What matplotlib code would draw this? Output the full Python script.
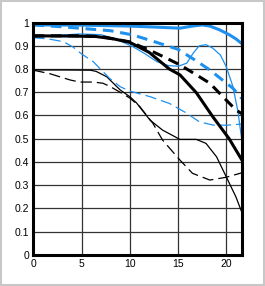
import matplotlib.pyplot as plt
from matplotlib.patches import Rectangle

plt.rcParams['font.family'] = ['Liberation Sans', 'DejaVu Sans']

BLUE = '#1e90ee'

# thick blue solid
x_bs = [0, 5, 10, 13, 15.2, 16.5, 17.5, 18.3, 19.3, 20.3, 21.0, 21.6]
y_bs = [0.99, 0.989, 0.985, 0.98, 0.976, 0.985, 0.99, 0.985, 0.969, 0.948, 0.93, 0.91]
# thick blue dashed
x_bd = [0, 3, 5, 8, 10.3, 12, 13.5, 15, 16.9, 18.3, 19.6, 20.7, 21.6]
y_bd = [0.99, 0.982, 0.975, 0.965, 0.947, 0.925, 0.905, 0.885, 0.835, 0.796, 0.753, 0.717, 0.674]
# thin blue solid
x_ts = [0, 2.5, 4.8, 7, 8.5, 10.3, 11.6, 12.8, 14, 15, 15.9, 16.6, 17.2, 17.9, 18.6, 19.4, 20.0, 20.7, 21.2, 21.6]
y_ts = [0.935, 0.945, 0.951, 0.948, 0.93, 0.897, 0.865, 0.832, 0.815, 0.812, 0.825, 0.87, 0.9, 0.905, 0.89, 0.86, 0.81, 0.724, 0.62, 0.50]
# thin blue dashed
x_td = [0, 1.5, 3.1, 4.1, 5.0, 6.2, 7.9, 9.0, 10, 12.1, 14.1, 15.9, 17.2, 18.6, 20, 21.6]
y_td = [0.935, 0.93, 0.918, 0.895, 0.865, 0.832, 0.76, 0.724, 0.705, 0.681, 0.652, 0.61, 0.573, 0.559, 0.558, 0.563]
# thick black solid
x_ks = [0, 4, 6.5, 8.3, 10, 12, 14.1, 15.2, 16.9, 18.6, 20.3, 21.6]
y_ks = [0.943, 0.942, 0.94, 0.93, 0.915, 0.872, 0.80, 0.775, 0.698, 0.595, 0.50, 0.41]
# thick black dashed
x_kd = [0, 5, 7, 10, 12, 13.5, 15.2, 16.9, 18.3, 19.3, 21, 21.6]
y_kd = [0.943, 0.943, 0.94, 0.917, 0.882, 0.853, 0.818, 0.775, 0.739, 0.696, 0.624, 0.608]
# thin black solid
x_ns = [0, 3, 5.9, 6.5, 7.6, 9.0, 10.0, 10.7, 12.1, 13.4, 15.2, 16.9, 17.9, 19.0, 20.0, 21.0, 21.6]
y_ns = [0.796, 0.796, 0.795, 0.79, 0.767, 0.71, 0.681, 0.654, 0.58, 0.537, 0.497, 0.497, 0.48, 0.422, 0.336, 0.25, 0.185]
# thin black dashed
x_nd = [0, 1.7, 3.8, 4.8, 6.2, 7.2, 7.9, 9.0, 10.0, 11.0, 12.4, 13.4, 15.2, 16.5, 18.3, 20.0, 21.6]
y_nd = [0.795, 0.78, 0.753, 0.744, 0.744, 0.739, 0.726, 0.70, 0.675, 0.64, 0.566, 0.494, 0.408, 0.351, 0.322, 0.334, 0.353]

fig = plt.figure(figsize=(2.65, 2.86), dpi=100)
ax = fig.add_axes([0.126, 0.109, 0.787, 0.812])

ax.plot(x_nd, y_nd, color='black', lw=0.9, dashes=(9, 4))
ax.plot(x_ns, y_ns, color='black', lw=0.9)
ax.plot(x_td, y_td, color=BLUE, lw=0.9, dashes=(9, 4))
ax.plot(x_ts, y_ts, color=BLUE, lw=0.9)
ax.plot(x_kd, y_kd, color='black', lw=2.2, dashes=(3.5, 2.2))
ax.plot(x_ks, y_ks, color='black', lw=2.2)
ax.plot(x_bd, y_bd, color=BLUE, lw=2.2, dashes=(3.5, 2.2))
ax.plot(x_bs, y_bs, color=BLUE, lw=2.2)

ax.set_xlim(0, 21.63)
ax.set_ylim(0, 1)
ax.set_xticks([0, 5, 10, 15, 20])
ax.set_yticks([i / 10 for i in range(11)])
ax.set_yticklabels(['0', '0.1', '0.2', '0.3', '0.4', '0.5', '0.6', '0.7', '0.8', '0.9', '1'])
ax.grid(True, color='#333333', lw=0.9)
ax.set_axisbelow(True)
ax.tick_params(length=0, labelsize=7.5, pad=3)
for s in ax.spines.values():
    s.set_linewidth(2.2)
    s.set_color('black')

fig.patches.append(Rectangle((0.002, 0.002), 0.995, 0.995, transform=fig.transFigure,
                             fill=False, edgecolor='#c8c8c8', lw=1.5))

fig.savefig('out.png', dpi=100)
